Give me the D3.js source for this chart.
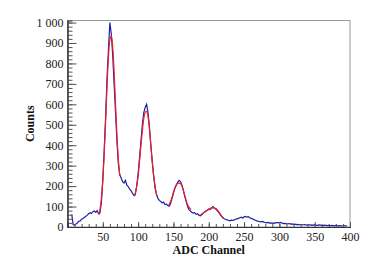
<!DOCTYPE html>
<html>
<head>
<meta charset="utf-8">
<script src="https://cdn.jsdelivr.net/npm/d3@7"></script>
<style>
  body { margin: 0; background: #fff; }
  svg { display: block; }
  .axis text { font-family: "Liberation Serif", "Times New Roman", serif; font-size: 12px; fill: #222; }
  .axis path { stroke: #333; }
  .axis line { stroke: #555; }
  .title { font-family: "Liberation Serif", "Times New Roman", serif; font-size: 12px; font-weight: bold; fill: #111; }
</style>
</head>
<body>
<div class="chart"></div>
<script>
'use strict'

// Histogram: ADC channel (every 2 channels) and counts.
const channels = d3.range(6, 398, 2);
const counts = [
    62, 12, 8, 15, 20, 28, 30, 38, 42, 48,
    52, 58, 65, 70, 66, 75, 78, 72, 80, 65,
    70, 120, 230, 380, 540, 730, 870, 1000, 945, 840,
    700, 560, 420, 310, 255, 240, 222, 215, 228, 205,
    198, 185, 178, 165, 155, 160, 200, 260, 340, 420,
    500, 560, 585, 600, 560, 490, 400, 320, 250, 190,
    160, 140, 130, 125, 118, 122, 110, 112, 105, 102,
    115, 140, 165, 190, 205, 218, 228, 222, 205, 180,
    150, 125, 100, 85, 78, 72, 68, 70, 62, 65,
    58, 55, 60, 68, 72, 78, 82, 88, 85, 95,
    100, 92, 88, 80, 72, 62, 52, 45, 40, 38,
    35, 33, 30, 34, 32, 35, 38, 40, 42, 45,
    48, 44, 50, 52, 48, 50, 45, 42, 40, 36,
    33, 30, 28, 26, 25, 27, 24, 22, 20, 22,
    19, 20, 18, 20, 19, 21, 22, 20, 23, 19,
    17, 18, 16, 15, 17, 14, 15, 13, 14, 12,
    13, 11, 12, 10, 11, 12, 9, 10, 11, 9,
    10, 8, 12, 9, 8, 10, 9, 8, 7, 9,
    8, 7, 8, 6, 8, 7, 6, 8, 7, 6,
    7, 5, 6, 7, 5, 6
];

// Gaussian fits over the four peaks (channel, value).
const fit1Ch = [45, 48, 50, 52, 54, 56, 58, 60, 62, 64, 66, 68, 70, 72, 74];
const fit1Val = [60, 140, 230, 360, 520, 690, 830, 915, 935, 880, 760, 600, 450, 330, 250];
const fit2Ch = [95, 98, 100, 102, 104, 106, 108, 110, 112, 114, 116, 118, 120, 122, 124, 126, 127];
const fit2Val = [150, 200, 250, 320, 400, 470, 530, 560, 565, 540, 480, 400, 320, 250, 200, 160, 150];
const fit3Ch = [143, 146, 148, 150, 152, 154, 156, 158, 160, 162, 164, 166, 168, 170, 172, 175];
const fit3Val = [105, 125, 145, 170, 190, 205, 213, 215, 212, 200, 180, 155, 130, 110, 97, 85];
const fit4Ch = [188, 192, 196, 200, 204, 207, 210, 213, 216, 219, 221];
const fit4Val = [58, 68, 78, 86, 92, 94, 90, 80, 65, 50, 42];

const xMajor = [50, 100, 150, 200, 250, 300, 350, 400];
const yMajor = d3.range(0, 1001, 100);

let width = 374,
    height = 267,
    margin = {top: 20.5, right: 24, bottom: 40, left: 67.5};

let svg = d3.select('.chart')
    .append('svg')
    .attr('width', width)
    .attr('height', height);

let x = d3.scaleLinear()
    .domain([0, 400])
    .range([margin.left, width - margin.right]);

let y = d3.scaleLinear()
    .domain([0, 1010])
    .range([height - margin.bottom, margin.top]);

// Frame (top and right edges are light grey).
svg.append('rect')
    .attr('x', x(0))
    .attr('y', y(1010))
    .attr('width', x(400) - x(0))
    .attr('height', y(0) - y(1010))
    .attr('fill', 'none')
    .attr('stroke', '#999');

svg.append('clipPath').attr('id', 'plot')
    .append('rect')
    .attr('x', x(0)).attr('y', y(1010))
    .attr('width', x(400) - x(0)).attr('height', y(0) - y(1010));

// Histogram line.
let line = d3.line()
    .x(d => x(d[0]))
    .y(d => y(d[1]));

svg.append('path')
    .datum(channels.map((c, i) => [c, counts[i]]))
    .attr('clip-path', 'url(#plot)')
    .attr('fill', 'none')
    .attr('stroke', '#1e1ea6')
    .attr('stroke-width', 1.2)
    .attr('d', line);

// Fit curves.
let fitLine = d3.line()
    .x(d => x(d[0]))
    .y(d => y(d[1]))
    .curve(d3.curveCatmullRom);

[[fit1Ch, fit1Val], [fit2Ch, fit2Val], [fit3Ch, fit3Val], [fit4Ch, fit4Val]].forEach(f => {
    svg.append('path')
        .datum(f[0].map((c, i) => [c, f[1][i]]))
        .attr('fill', 'none')
        .attr('stroke', '#f01c24')
        .attr('stroke-width', 1.2)
        .attr('d', fitLine);
});

// Axes, ticks drawn inside the frame.
let locale = d3.formatLocale({decimal: '.', thousands: '\u00a0', grouping: [3], currency: ['', '']});

svg.append('g')
    .attr('class', 'axis')
    .attr('transform', `translate(${x(0)},0)`)
    .call(d3.axisLeft(y).tickValues(d3.range(0, 1001, 20)).tickSize(-5).tickFormat(''));

svg.append('g')
    .attr('class', 'axis')
    .attr('transform', `translate(${x(0)},0)`)
    .call(d3.axisLeft(y).tickValues(yMajor).tickSize(-9).tickPadding(4).tickFormat(locale.format(',')))
    .call(g => g.select('.domain').attr('d', `M0.5,${y(0)}V${y(1010)}`));

svg.append('g')
    .attr('class', 'axis')
    .attr('transform', `translate(0,${y(0)})`)
    .call(d3.axisBottom(x).tickValues(d3.range(10, 401, 10)).tickSize(-3).tickFormat(''));

svg.append('g')
    .attr('class', 'axis')
    .attr('transform', `translate(0,${y(0)})`)
    .call(d3.axisBottom(x).tickValues(xMajor).tickSize(-5).tickPadding(5));

// Axis titles.
svg.append('text')
    .attr('class', 'title')
    .attr('x', (x(0) + x(400)) / 2)
    .attr('y', 254)
    .attr('text-anchor', 'middle')
    .text('ADC Channel');

svg.append('text')
    .attr('class', 'title')
    .attr('transform', `translate(34,${(y(0) + y(1010)) / 2}) rotate(-90)`)
    .attr('text-anchor', 'middle')
    .text('Counts');
</script>
</body>
</html>
